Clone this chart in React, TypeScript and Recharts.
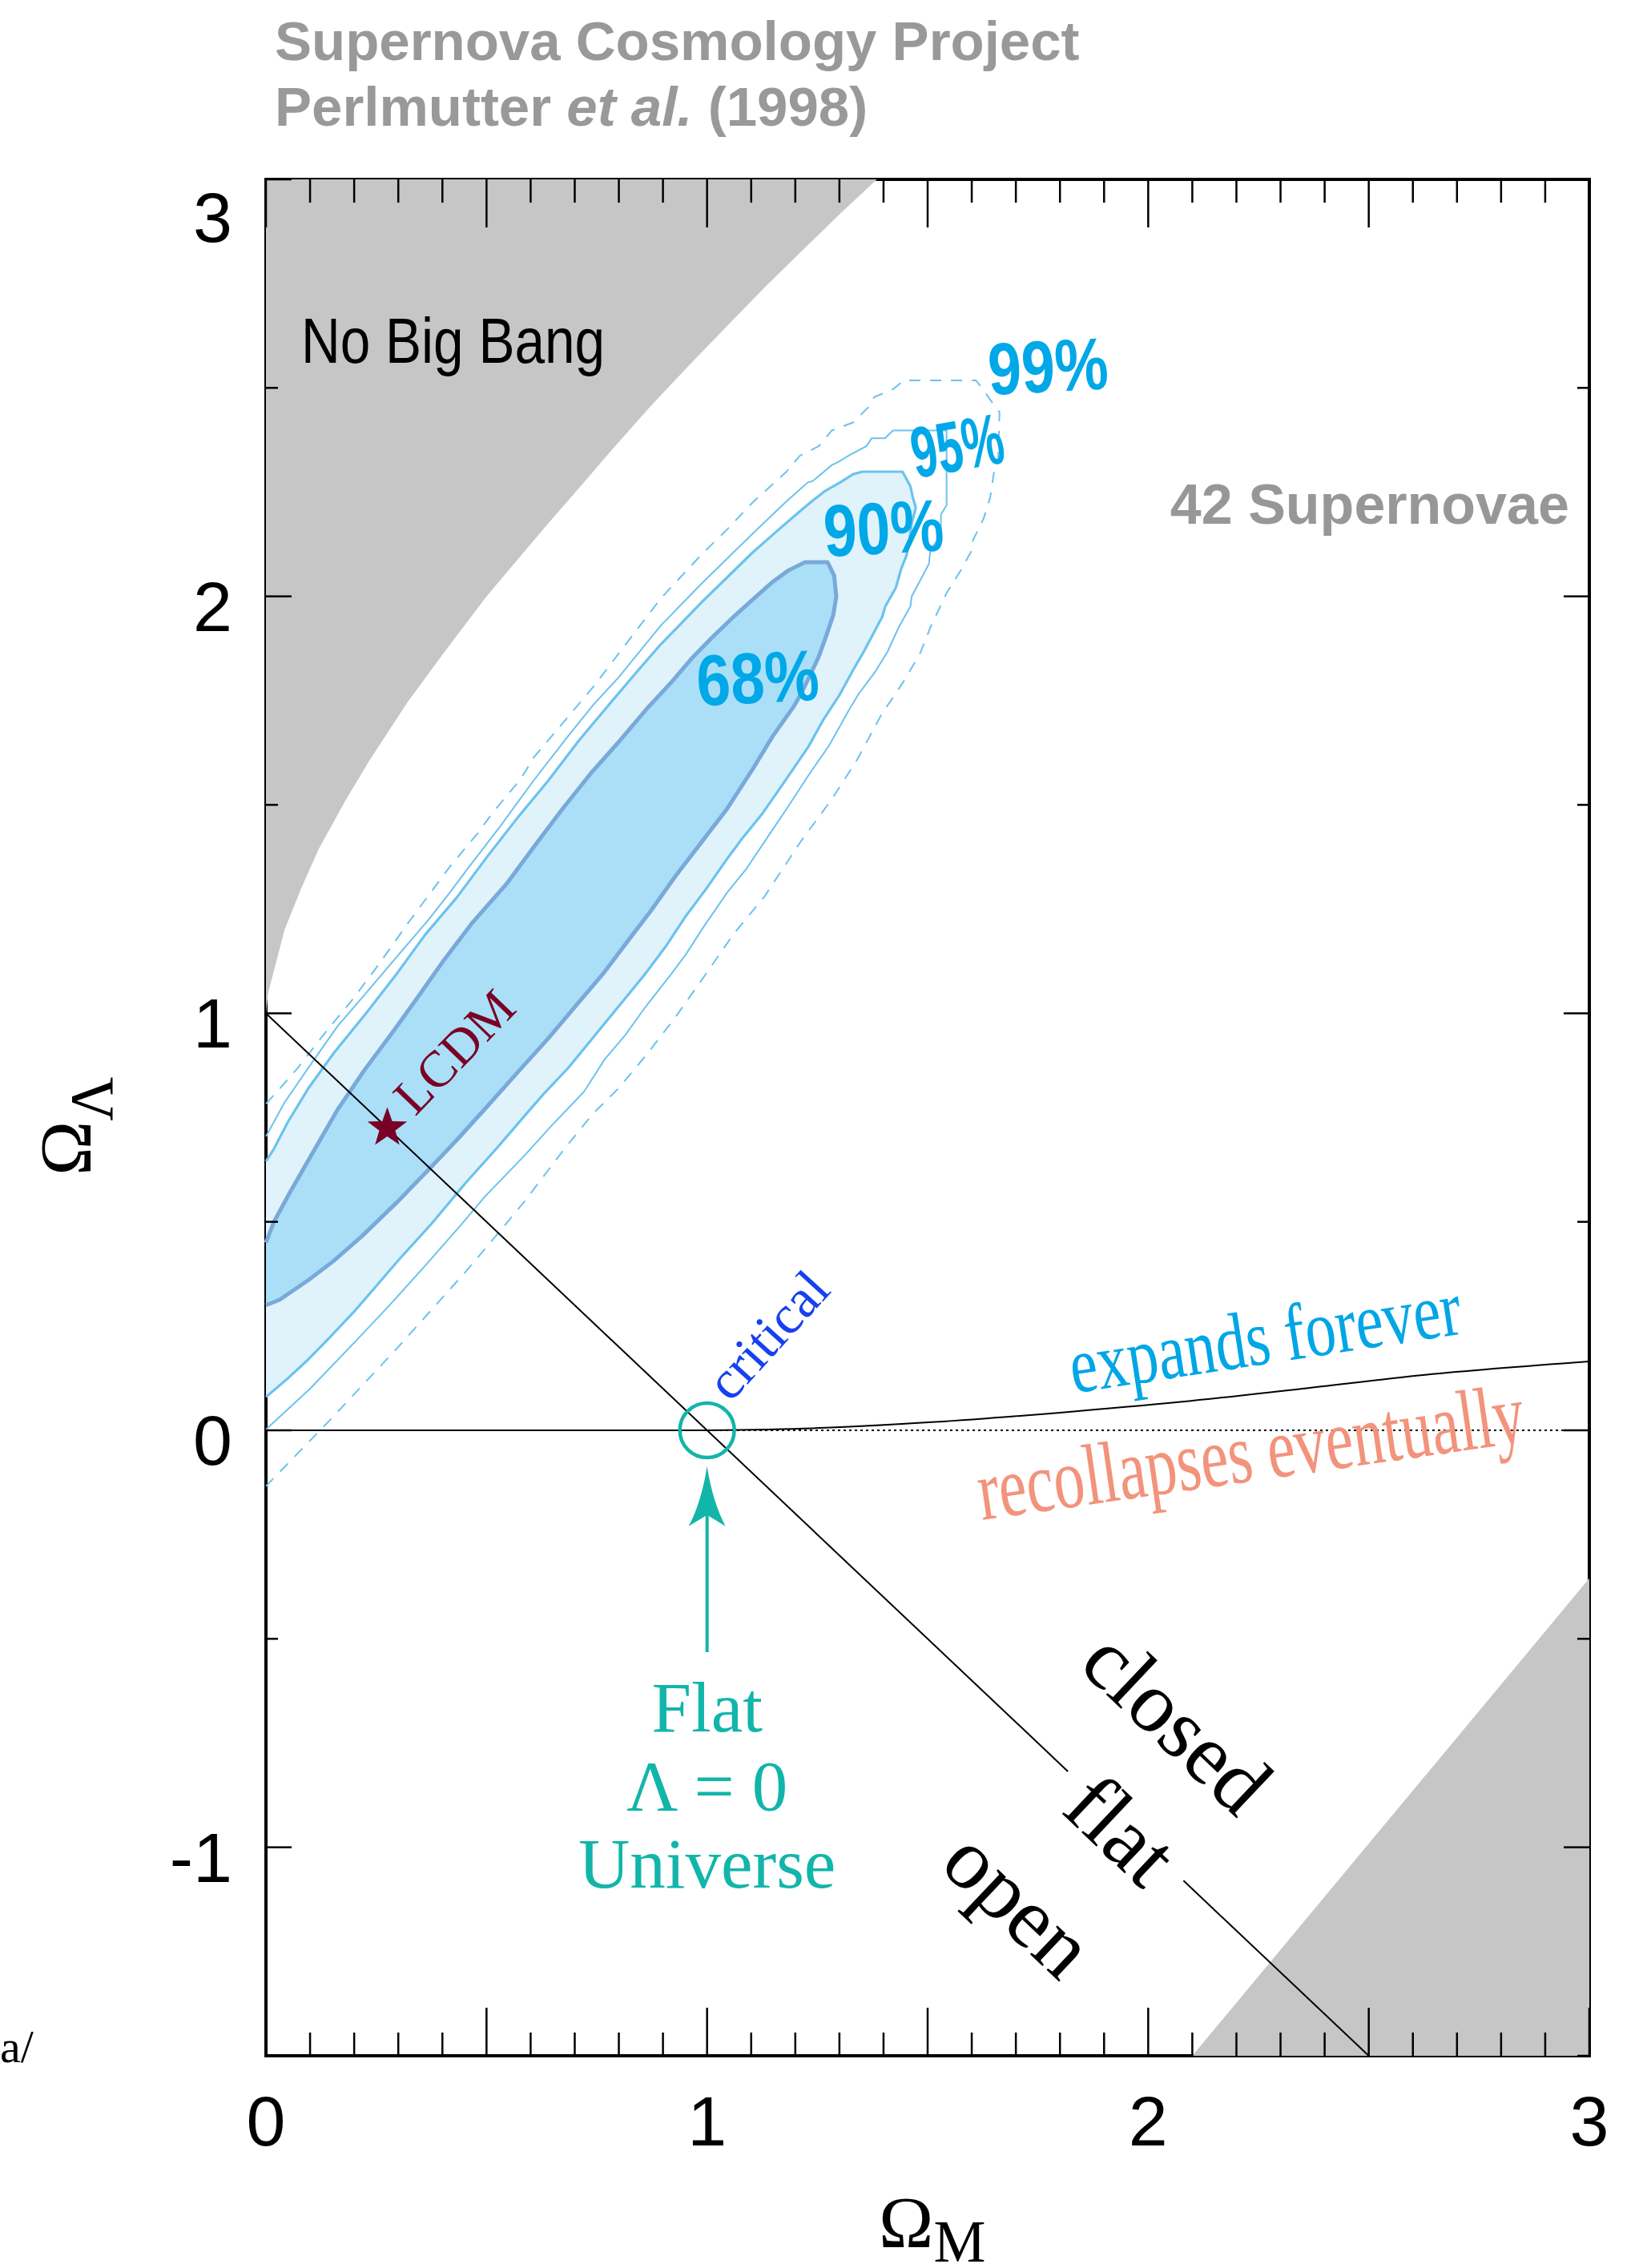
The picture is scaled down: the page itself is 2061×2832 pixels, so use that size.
import React from 'react'
import { ScatterChart, Scatter, XAxis, YAxis, Curve } from 'recharts'

type Pt = [number, number]

// ---- excluded regions (Ω_M, Ω_Λ) ----
const NO_BIG_BANG: Pt[] = [
  [0, 3], [0, 1.0], [0.005, 1.05], [0.02, 1.11], [0.042, 1.2], [0.08, 1.3], [0.12, 1.395], [0.18, 1.51],
  [0.235, 1.607], [0.32, 1.745], [0.4, 1.86], [0.5, 2.0], [0.58, 2.1], [0.64, 2.175], [0.71, 2.26],
  [0.779, 2.345], [0.871, 2.455], [0.96, 2.555], [1.056, 2.66], [1.13, 2.74], [1.195, 2.808], [1.3, 2.916],
  [1.385, 3],
]
const LOWER_RIGHT: Pt[] = [[2.1, -1.5], [3, -0.355], [3, -1.5]]

// ---- confidence contours ----
const CL68: Pt[] = [
  [0, 0.45], [0.018, 0.5], [0.054, 0.57], [0.103, 0.66], [0.163, 0.77], [0.224, 0.865], [0.284, 0.95],
  [0.345, 1.04], [0.405, 1.13], [0.466, 1.215], [0.545, 1.31], [0.608, 1.4], [0.672, 1.49], [0.736, 1.575],
  [0.799, 1.65], [0.863, 1.73], [0.92, 1.795], [0.964, 1.85], [1.01, 1.9], [1.057, 1.948], [1.103, 1.992],
  [1.149, 2.035], [1.184, 2.062], [1.222, 2.082], [1.273, 2.082], [1.288, 2.05], [1.293, 2.0], [1.286, 1.955],
  [1.27, 1.905], [1.253, 1.855], [1.234, 1.812], [1.215, 1.77], [1.196, 1.735], [1.149, 1.665], [1.103, 1.585],
  [1.045, 1.49], [0.987, 1.41], [0.929, 1.33], [0.872, 1.245], [0.825, 1.18], [0.768, 1.1], [0.704, 1.02],
  [0.64, 0.94], [0.576, 0.865], [0.5, 0.775], [0.436, 0.7], [0.375, 0.632], [0.3, 0.55], [0.217, 0.465],
  [0.152, 0.405], [0.096, 0.36], [0.031, 0.313], [0, 0.3],
]
const CL90: Pt[] = [
  [0, 0.645], [0.018, 0.675], [0.05, 0.74], [0.096, 0.82], [0.154, 0.905], [0.223, 0.995], [0.293, 1.09],
  [0.362, 1.19], [0.432, 1.277], [0.501, 1.375], [0.571, 1.47], [0.64, 1.558], [0.71, 1.655], [0.779, 1.742],
  [0.848, 1.828], [0.895, 1.885], [0.941, 1.935], [0.987, 1.985], [1.045, 2.045], [1.103, 2.105], [1.16, 2.158],
  [1.198, 2.193], [1.234, 2.225], [1.265, 2.251], [1.301, 2.273], [1.331, 2.293], [1.352, 2.299], [1.443, 2.299],
  [1.461, 2.264], [1.466, 2.239], [1.473, 2.213], [1.464, 2.175], [1.458, 2.13], [1.452, 2.098], [1.44, 2.066],
  [1.428, 2.021], [1.404, 1.976], [1.397, 1.951], [1.355, 1.867], [1.331, 1.823], [1.301, 1.765], [1.264, 1.705],
  [1.23, 1.64], [1.172, 1.55], [1.126, 1.48], [1.08, 1.42], [1.045, 1.37], [0.999, 1.3], [0.953, 1.235],
  [0.906, 1.16], [0.86, 1.095], [0.802, 1.02], [0.744, 0.945], [0.686, 0.87], [0.628, 0.805], [0.587, 0.755],
  [0.526, 0.68], [0.454, 0.595], [0.375, 0.495], [0.302, 0.41], [0.233, 0.325], [0.2, 0.285], [0.144, 0.222],
  [0.096, 0.17], [0.05, 0.125], [0, 0.08],
]
const CL95: Pt[] = [
  [0, 0.705], [0.042, 0.786], [0.103, 0.88], [0.163, 0.97], [0.224, 1.045], [0.284, 1.12], [0.369, 1.225],
  [0.417, 1.29], [0.456, 1.345], [0.532, 1.45], [0.608, 1.56], [0.685, 1.665], [0.742, 1.74], [0.799, 1.805],
  [0.895, 1.93], [0.987, 2.03], [1.045, 2.09], [1.103, 2.15], [1.18, 2.228], [1.228, 2.273], [1.24, 2.277],
  [1.283, 2.315], [1.295, 2.321], [1.325, 2.34], [1.361, 2.36], [1.373, 2.379], [1.403, 2.379], [1.422, 2.398],
  [1.543, 2.398], [1.543, 2.219], [1.53, 2.196], [1.53, 2.148], [1.506, 2.11], [1.503, 2.078], [1.464, 2.0],
  [1.461, 1.976], [1.434, 1.925], [1.409, 1.867], [1.379, 1.816], [1.343, 1.765], [1.323, 1.73], [1.277, 1.643],
  [1.23, 1.571], [1.18, 1.49], [1.138, 1.424], [1.088, 1.345], [1.045, 1.289], [0.99, 1.204], [0.953, 1.143],
  [0.92, 1.096], [0.86, 1.015], [0.814, 0.947], [0.768, 0.89], [0.721, 0.812], [0.685, 0.772], [0.647, 0.73],
  [0.587, 0.66], [0.496, 0.56], [0.436, 0.485], [0.357, 0.39], [0.28, 0.3], [0.2, 0.21], [0.1, 0.1], [0, 0.002],
]
const CL99: Pt[] = [
  [0, 0.783], [0.03, 0.818], [0.072, 0.869], [0.133, 0.952], [0.194, 1.03], [0.254, 1.115], [0.321, 1.215],
  [0.417, 1.352], [0.481, 1.433], [0.513, 1.48], [0.577, 1.561], [0.608, 1.615], [0.672, 1.695], [0.742, 1.783],
  [0.895, 1.995], [0.987, 2.1], [1.045, 2.16], [1.103, 2.225], [1.18, 2.299], [1.21, 2.337], [1.253, 2.36],
  [1.283, 2.398], [1.331, 2.417], [1.367, 2.455], [1.379, 2.478], [1.422, 2.497], [1.446, 2.518], [1.609, 2.518],
  [1.621, 2.503], [1.651, 2.458], [1.663, 2.442], [1.66, 2.327], [1.651, 2.302], [1.642, 2.238], [1.627, 2.187],
  [1.603, 2.135], [1.6, 2.11], [1.573, 2.059], [1.543, 2.008], [1.506, 1.925], [1.482, 1.861], [1.446, 1.797],
  [1.422, 1.758], [1.398, 1.722], [1.34, 1.608], [1.283, 1.514], [1.213, 1.413], [1.13, 1.28], [1.06, 1.19],
  [1.003, 1.103], [0.927, 0.989], [0.863, 0.901], [0.799, 0.82], [0.742, 0.76], [0.678, 0.677], [0.587, 0.55],
  [0.526, 0.472], [0.454, 0.382], [0.3, 0.2], [0.15, 0.03], [0, -0.134],
]

// ---- reference lines ----
const FLAT_UPPER: Pt[] = [[0, 1], [1.818, -0.818]]
const FLAT_LOWER: Pt[] = [[2.08, -1.08], [2.5, -1.5]]
const ZERO_LAMBDA: Pt[] = [[0, 0], [3, 0]]
const STATIC_LINE: Pt[] = [[0, 0], [1, 0]]
const EXPANSION: Pt[] = [
  [1, 0], [1.24, 0.005], [1.517, 0.02], [1.795, 0.042], [2.073, 0.068], [2.35, 0.1], [2.628, 0.133], [3, 0.165],
]
const ARROW: Pt[] = [[1, -0.532], [1, -0.086]]
const CRITICAL: Pt = [1, 0]
const LCDM: Pt = [0.275, 0.725]

// ---- label anchors ----
const AT_NO_BIG_BANG: Pt = [0.08, 2.561]
const AT_SN42: Pt = [2.05, 2.174]
const AT_99: Pt = [1.64, 2.483]
const AT_95: Pt = [1.473, 2.283]
const AT_90: Pt = [1.267, 2.095]
const AT_68: Pt = [0.979, 1.737]
const AT_LCDM: Pt = [0.427, 0.908]
const AT_CRITICAL: Pt = [1.053, 0.065]
const AT_EXPANDS: Pt = [1.831, 0.089]
const AT_RECOLLAPSES: Pt = [1.623, -0.215]
const AT_FLAT_L0: Pt[] = [[1, -0.722], [1, -0.91], [1, -1.097]]
const AT_CLOSED: Pt = [2.066, -0.699]
const AT_FLAT: Pt = [1.939, -0.958]
const AT_OPEN: Pt = [1.707, -1.135]

const X_TICKS = [
  0, 0.1, 0.2, 0.3, 0.4, 0.5, 0.6, 0.7, 0.8, 0.9, 1, 1.1, 1.2, 1.3, 1.4, 1.5, 1.6, 1.7, 1.8, 1.9,
  2, 2.1, 2.2, 2.3, 2.4, 2.5, 2.6, 2.7, 2.8, 2.9, 3,
]
const Y_TICKS = [-1.5, -1, -0.5, 0, 0.5, 1, 1.5, 2, 2.5, 3]
const X_LABELS = [0, 1, 2, 3]
const Y_LABELS = [-1, 0, 1, 2, 3]

const W = 2061
const H = 2832
const SANS = '"Liberation Sans", Arial, Helvetica, sans-serif'
const SERIF = '"Liberation Serif", "Times New Roman", Times, serif'
const BLUE_TXT = '#00a8e8'
const LINE_BLUE = '#6cc2ee'
const TEAL = '#12b5aa'
const MAROON = '#7a0025'

const pts = (a: Pt[]) => a.map(([x, y]) => ({ x, y }))
const toPath = (p: { x: number; y: number }[], close: boolean) =>
  p.map((q, i) => `${i ? 'L' : 'M'}${q.x},${q.y}`).join(' ') + (close ? ' Z' : '')

const nothing = () => <g />

const region = (fill: string, stroke?: string, strokeWidth = 0) => (props: any) => (
  <g>
    <path d={toPath(props.points, true)} fill={fill} stroke="none" />
    {stroke && (
      <path d={toPath(props.points, false)} fill="none" stroke={stroke} strokeWidth={strokeWidth} strokeLinejoin="round" />
    )}
  </g>
)

const polyline = (stroke: string, strokeWidth: number, dash?: string) => (props: any) => (
  <path d={toPath(props.points, false)} fill="none" stroke={stroke} strokeWidth={strokeWidth} strokeDasharray={dash} />
)

const smooth = (stroke: string, strokeWidth: number) => (props: any) => (
  <Curve type="monotoneX" points={props.points} fill="none" stroke={stroke} strokeWidth={strokeWidth} />
)

const arrow = (props: any) => {
  const [tail, tip] = props.points
  return (
    <g>
      <line x1={tail.x} y1={tail.y} x2={tip.x} y2={tip.y + 55} stroke={TEAL} strokeWidth={4} />
      <path
        d={`M${tip.x},${tip.y} Q${tip.x + 7},${tip.y + 45} ${tip.x + 23},${tip.y + 75} L${tip.x},${tip.y + 61} L${tip.x - 23},${tip.y + 75} Q${tip.x - 7},${tip.y + 45} ${tip.x},${tip.y} Z`}
        fill={TEAL}
      />
    </g>
  )
}

const starPath = (cx: number, cy: number, R: number, r: number) => {
  let d = ''
  for (let i = 0; i < 10; i++) {
    const a = -Math.PI / 2 + (i * Math.PI) / 5
    const rad = i % 2 ? r : R
    d += `${i ? 'L' : 'M'}${cx + rad * Math.cos(a)},${cy + rad * Math.sin(a)}`
  }
  return d + 'Z'
}

const isMult = (v: number, step: number) => Math.abs(v / step - Math.round(v / step)) < 1e-6

const BottomTick = ({ x, y, payload }: any) => {
  const v = payload.value
  return (
    <g>
      <line x1={x} x2={x} y1={y} y2={y - (isMult(v, 0.5) ? 60 : 29)} stroke="#000" strokeWidth={2.5} />
      {X_LABELS.includes(v) && (
        <text x={x} y={y + 112} textAnchor="middle" fontFamily={SANS} fontSize={88} fill="#000">{v}</text>
      )}
    </g>
  )
}
const TopTick = ({ x, y, payload }: any) => (
  <line x1={x} x2={x} y1={y} y2={y + (isMult(payload.value, 0.5) ? 60 : 29)} stroke="#000" strokeWidth={2.5} />
)
const LeftTick = ({ x, y, payload }: any) => {
  const v = payload.value
  return (
    <g>
      <line x1={x} x2={x + (isMult(v, 1) ? 32 : 15)} y1={y} y2={y} stroke="#000" strokeWidth={2.5} />
      {Y_LABELS.includes(v) && (
        <text x={x - 42} y={y + (v === 3 ? 78 : 43)} textAnchor="end" fontFamily={SANS} fontSize={88} fill="#000">
          {v < 0 ? `-${Math.abs(v)}` : v}
        </text>
      )}
    </g>
  )
}
const RightTick = ({ x, y, payload }: any) => (
  <line x1={x} x2={x - (isMult(payload.value, 1) ? 32 : 15)} y1={y} y2={y} stroke="#000" strokeWidth={2.5} />
)

// single-point series used to pin a label to data coordinates
const anchor = (id: string, at: Pt, draw: (cx: number, cy: number) => React.ReactNode) => (
  <Scatter
    key={id}
    xAxisId="b"
    yAxisId="l"
    data={[{ x: at[0], y: at[1] }]}
    isAnimationActive={false}
    shape={(p: any) => <g>{draw(p.cx, p.cy)}</g>}
  />
)

const series = (id: string, data: Pt[], line: any) => (
  <Scatter key={id} xAxisId="b" yAxisId="l" data={pts(data)} isAnimationActive={false} shape={nothing} line={line} />
)

const pct = (id: string, at: Pt, text: string, size: number, len: number, rot: number) =>
  anchor(id, at, (cx, cy) => (
    <text
      x={cx}
      y={cy}
      fontFamily={SANS}
      fontWeight="bold"
      fontSize={size}
      fill={BLUE_TXT}
      textLength={len}
      lengthAdjust="spacingAndGlyphs"
      transform={`rotate(${rot} ${cx} ${cy})`}
    >
      {text}
    </text>
  ))

const slanted = (id: string, at: Pt, text: string) =>
  anchor(id, at, (cx, cy) => (
    <text
      x={cx}
      y={cy}
      textAnchor="middle"
      dominantBaseline="central"
      fontFamily={SERIF}
      fontSize={108}
      fill="#000"
      transform={`rotate(43.4 ${cx} ${cy})`}
    >
      {text}
    </text>
  ))

const axisLine = { stroke: '#000', strokeWidth: 4, strokeLinecap: 'square' as const }

export default function App() {
  return (
    <div style={{ position: 'absolute', left: 0, top: 0, width: W, height: H, background: '#fff' }}>
      <ScatterChart width={W} height={H} margin={{ top: 223, right: 76, bottom: 264, left: 331 }}>
        {series('nbb', NO_BIG_BANG, region('#c6c6c6'))}
        {series('lr', LOWER_RIGHT, region('#c6c6c6'))}
        {series('c99', CL99, polyline(LINE_BLUE, 2, '14 12'))}
        {series('c95', CL95, polyline(LINE_BLUE, 2))}
        {series('c90', CL90, region('#e0f3fb', LINE_BLUE, 3.2))}
        {series('c68', CL68, region('#abdff8', '#79a9d9', 5))}
        {series('zero', ZERO_LAMBDA, polyline('#000', 2, '3 4'))}
        {series('static', STATIC_LINE, polyline('#000', 2))}
        {series('exp', EXPANSION, smooth('#000', 2))}
        {series('flat1', FLAT_UPPER, polyline('#000', 2))}
        {series('flat2', FLAT_LOWER, polyline('#000', 2))}
        {series('arrow', ARROW, arrow)}
        {anchor('crit', CRITICAL, (cx, cy) => <circle cx={cx} cy={cy} r={34} fill="none" stroke={TEAL} strokeWidth={4.5} />)}
        {anchor('lcdm', LCDM, (cx, cy) => <path d={starPath(cx, cy, 26, 10.5)} fill={MAROON} />)}

        {anchor('nbbText', AT_NO_BIG_BANG, (cx, cy) => (
          <text x={cx} y={cy} fontFamily={SANS} fontSize={80} fill="#000" textLength={379} lengthAdjust="spacingAndGlyphs">
            No Big Bang
          </text>
        ))}
        {anchor('sn42', AT_SN42, (cx, cy) => (
          <text x={cx} y={cy} fontFamily={SANS} fontWeight="bold" fontSize={70} fill="#979797">42 Supernovae</text>
        ))}
        {pct('p99', AT_99, '99%', 92, 150, -3)}
        {pct('p95', AT_95, '95%', 90, 116, -10)}
        {pct('p90', AT_90, '90%', 92, 150, -3)}
        {pct('p68', AT_68, '68%', 90, 153, -3)}
        {anchor('lcdmText', AT_LCDM, (cx, cy) => (
          <text x={cx} y={cy} textAnchor="middle" dominantBaseline="central" fontFamily={SERIF} fontSize={64} fill={MAROON}
            transform={`rotate(-46 ${cx} ${cy})`}>
            LCDM
          </text>
        ))}
        {anchor('critText', AT_CRITICAL, (cx, cy) => (
          <text x={cx} y={cy} fontFamily={SERIF} fontSize={68} fill="#1640f0" transform={`rotate(-47.7 ${cx} ${cy})`}>
            critical
          </text>
        ))}
        {anchor('expText', AT_EXPANDS, (cx, cy) => (
          <text x={cx} y={cy} fontFamily={SERIF} fontSize={100} fill="#00a6e6" textLength={493} lengthAdjust="spacingAndGlyphs"
            transform={`rotate(-8.7 ${cx} ${cy})`}>
            expands forever
          </text>
        ))}
        {anchor('recText', AT_RECOLLAPSES, (cx, cy) => (
          <text x={cx} y={cy} fontFamily={SERIF} fontSize={108} fill="#f2937c" textLength={688} lengthAdjust="spacingAndGlyphs"
            transform={`rotate(-8.2 ${cx} ${cy})`}>
            recollapses eventually
          </text>
        ))}
        {['Flat', 'Λ = 0', 'Universe'].map((t, i) =>
          anchor(`fl${i}`, AT_FLAT_L0[i], (cx, cy) => (
            <text x={cx} y={cy} textAnchor="middle" fontFamily={SERIF} fontSize={89} fill={TEAL}>{t}</text>
          )),
        )}
        {slanted('closed', AT_CLOSED, 'closed')}
        {slanted('flat', AT_FLAT, 'flat')}
        {slanted('open', AT_OPEN, 'open')}

        <XAxis xAxisId="b" orientation="bottom" dataKey="x" type="number" domain={[0, 3]} ticks={X_TICKS} interval={0}
          height={1} tickSize={0} tickMargin={0} tickLine={false} tick={BottomTick} axisLine={axisLine} />
        <XAxis xAxisId="t" orientation="top" dataKey="x" type="number" domain={[0, 3]} allowDataOverflow ticks={X_TICKS}
          interval={0} height={1} tickSize={0} tickMargin={0} tickLine={false} tick={TopTick} axisLine={axisLine} />
        <YAxis yAxisId="l" orientation="left" dataKey="y" type="number" domain={[-1.5, 3]} ticks={Y_TICKS} interval={0}
          width={1} tickSize={0} tickMargin={0} tickLine={false} tick={LeftTick} axisLine={axisLine} />
        <YAxis yAxisId="r" orientation="right" dataKey="y" type="number" domain={[-1.5, 3]} allowDataOverflow ticks={Y_TICKS}
          interval={0} width={1} tickSize={0} tickMargin={0} tickLine={false} tick={RightTick} axisLine={axisLine} />
      </ScatterChart>

      <svg width={W} height={H} style={{ position: 'absolute', left: 0, top: 0, pointerEvents: 'none' }}>
        <text x={343} y={75} fontFamily={SANS} fontWeight="bold" fontSize={69} fill="#999">Supernova Cosmology Project</text>
        <text x={343} y={157} fontFamily={SANS} fontWeight="bold" fontSize={69} fill="#999">
          Perlmutter <tspan fontStyle="italic">et al.</tspan> (1998)
        </text>
        <text x={1097} y={2806} fontFamily={SERIF} fontSize={92} fill="#000">
          Ω<tspan fontSize={73} dy={18}>M</tspan>
        </text>
        <text transform="translate(113 1468) rotate(-90)" fontFamily={SERIF} fontSize={92} fill="#000">
          Ω<tspan fontSize={76} dy={27}>Λ</tspan>
        </text>
        <text x={0} y={2575} fontFamily={SERIF} fontSize={58} fill="#000">a/</text>
      </svg>
    </div>
  )
}
